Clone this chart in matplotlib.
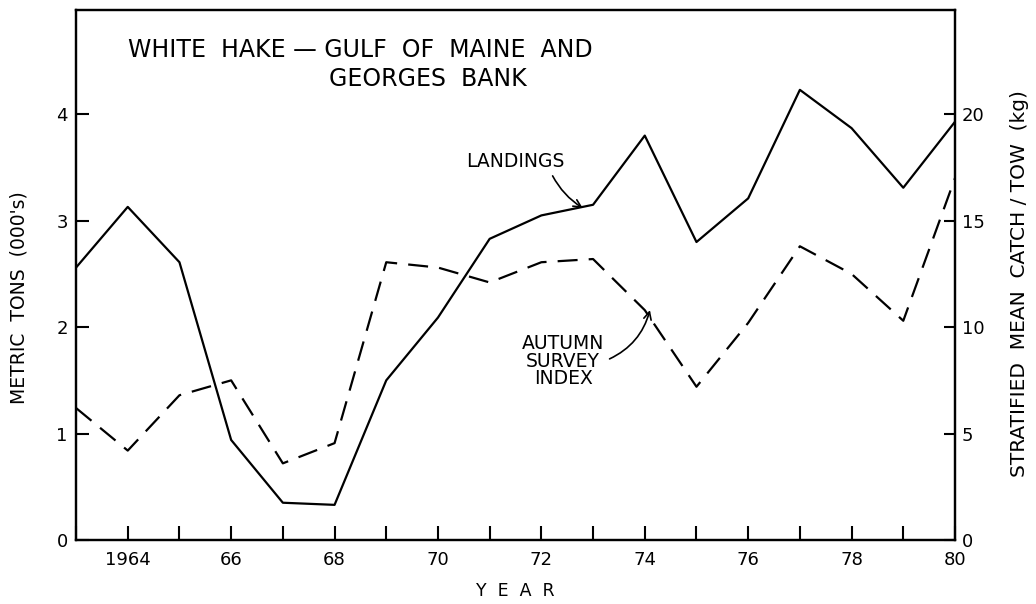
import matplotlib.pyplot as plt

years = list(range(1963, 1981))
# landings, thousands of metric tons (left axis)
landings = [2.56, 3.13, 2.61, 0.94, 0.35, 0.33, 1.50, 2.09, 2.83, 3.05,
            3.15, 3.80, 2.80, 3.21, 4.23, 3.87, 3.31, 3.93]
# autumn survey stratified mean catch/tow, kg (right axis)
survey = [6.2, 4.2, 6.8, 7.5, 3.6, 4.55, 13.05, 12.8, 12.1, 13.05,
          13.2, 10.8, 7.2, 10.2, 13.8, 12.5, 10.3, 17.0]

xticks = list(range(1964, 1981, 2))
xtick_labels = ['1964', '66', '68', '70', '72', '74', '76', '78', '80']

plt.rcParams['font.family'] = 'DejaVu Sans'

fig = plt.figure(figsize=(10.36, 6.04), dpi=100)
ax = fig.add_axes([0.0734, 0.106, 0.8484, 0.8774])
ax2 = ax.twinx()

ax.plot(years, landings, color='black', linewidth=1.6)
ax2.plot(years, survey, color='black', linewidth=1.6, linestyle=(0, (9, 5)))

ax.set_xlim(1963, 1980)
ax.set_ylim(0, 4.98)
ax2.set_ylim(0, 24.9)

ax.set_xticks(range(1963, 1981), minor=True)
ax.set_xticks(xticks)
ax.set_xticklabels(xtick_labels, fontsize=13)
ax.set_yticks([0, 1, 2, 3, 4])
ax.set_yticklabels(['0', '1', '2', '3', '4'], fontsize=13)
ax2.set_yticks([0, 5, 10, 15, 20])
ax2.set_yticklabels(['0', '5', '10', '15', '20'], fontsize=13)

ax.tick_params(axis='x', which='both', direction='in', length=10, width=1.5, pad=8)
ax.tick_params(axis='y', direction='in', length=9, width=1.5, pad=6)
ax2.tick_params(axis='y', direction='in', length=8, width=1.5, pad=5)

for a in (ax, ax2):
    for s in a.spines.values():
        s.set_linewidth(1.6)

ax.set_xlabel('Y  E  A  R', fontsize=12.5, labelpad=9)
ax.set_ylabel("METRIC  TONS  (000's)", fontsize=13.5)
ax.yaxis.set_label_coords(-0.054, 0.457)
ax2.set_ylabel('STRATIFIED  MEAN  CATCH / TOW  (kg)', fontsize=14.5)
ax2.yaxis.set_label_coords(1.063, 0.483)

ax.text(1964.0, 4.6, 'WHITE  HAKE \u2014 GULF  OF  MAINE  AND', fontsize=17,
        ha='left', va='center')
ax.text(1967.9, 4.33, 'GEORGES  BANK', fontsize=17, ha='left', va='center')

ax.annotate('LANDINGS', xy=(1972.8, 3.12), xytext=(1970.55, 3.56),
            fontsize=13.5, ha='left', va='center',
            arrowprops=dict(arrowstyle='->', color='black', lw=1.2,
                            connectionstyle='arc3,rad=0.15',
                            shrinkA=2, shrinkB=0, relpos=(0.85, 0.0)))
ax2.annotate('AUTUMN\nSURVEY\nINDEX', xy=(1974.1, 10.8), xytext=(1972.42, 8.4),
             fontsize=13.5, ha='center', va='center', linespacing=0.9,
             arrowprops=dict(arrowstyle='->', color='black', lw=1.2,
                             connectionstyle='arc3,rad=0.25',
                             shrinkA=2, shrinkB=0, relpos=(1.0, 0.5)))

fig.savefig('out.png', dpi=100)
